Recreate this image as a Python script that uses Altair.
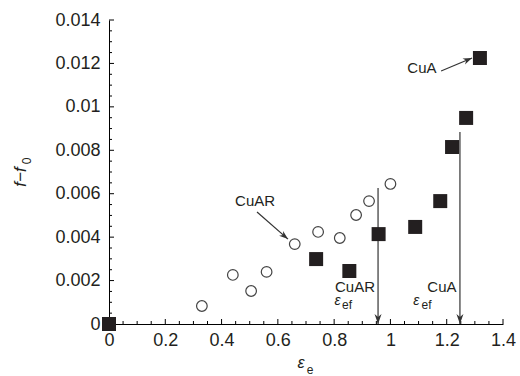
import altair as alt
import pandas as pd

# ---- data ----
cuar_x = [0.33, 0.44, 0.505, 0.56, 0.66, 0.743, 0.82, 0.878, 0.924, 1.0]
cuar_y = [0.00083, 0.00226, 0.00152, 0.0024, 0.00368, 0.00424, 0.00396, 0.00502, 0.00566, 0.00645]

cua_x = [0.0, 0.736, 0.854, 0.958, 1.088, 1.177, 1.219, 1.269, 1.318]
cua_y = [0.0, 0.00299, 0.00244, 0.00414, 0.00447, 0.00566, 0.00815, 0.00949, 0.01225]

x_major = [0, 0.2, 0.4, 0.6, 0.8, 1.0, 1.2, 1.4]
y_major = [0, 0.002, 0.004, 0.006, 0.008, 0.01, 0.012, 0.014]
x_minor = [round(i * 0.05, 3) for i in range(29)]
y_minor = [round(i * 0.0005, 5) for i in range(29)]

# strain markers (vertical arrows)
eps_x = [0.956, 1.247]
eps_top = [0.00626, 0.00884]
eps_names = ["CuAR", "CuA"]

# annotation arrows: start -> end
ann_x1 = [0.526, 1.18]
ann_y1 = [0.00516, 0.01165]
ann_x2 = [0.636, 1.29]
ann_y2 = [0.00391, 0.01225]
ann_angle = [310, 247]
ann_text = ["CuAR", "CuA"]
ann_tx = [0.519, 1.112]
ann_ty = [0.00566, 0.01179]

# epsilon_ef label positions
lab_x = [0.874, 1.183]
lab_y = [0.00172, 0.00172]
eps_sym_x = [0.812, 1.092]
eps_sym_y = [0.00105, 0.00105]
sub_x = [0.846, 1.128]
sub_y = [0.00086, 0.00086]

FONT = "Liberation Sans"
INK = "#231f20"
W, H = 394, 304

xscale = alt.Scale(domain=[0, 1.4], nice=False, zero=False)
yscale = alt.Scale(domain=[0, 0.014], nice=False, zero=False)
xaxis = alt.Axis(values=x_major, format="~g", ticks=False, grid=False, title="",
                 domainColor="black", domainWidth=1, labelFont=FONT, labelFontSize=18,
                 labelColor=INK, labelPadding=7, labelFlush=False, labelOverlap=False)
yaxis = alt.Axis(values=y_major, format="~g", ticks=False, grid=False, title="",
                 domainColor="black", domainWidth=1, labelFont=FONT, labelFontSize=18,
                 labelColor=INK, labelPadding=9, labelFlush=False, labelOverlap=False)


def X(f="x"):
    return alt.X(f, type="quantitative", scale=xscale, axis=xaxis)


def Y(f="y"):
    return alt.Y(f, type="quantitative", scale=yscale, axis=yaxis)


df_cuar = pd.DataFrame({"x": cuar_x, "y": cuar_y})
df_cua = pd.DataFrame({"x": cua_x, "y": cua_y})

major_len, minor_len = 5, 3
df_xt = pd.DataFrame({"x": x_minor, "major": [any(abs(v - m) < 1e-9 for m in x_major) for v in x_minor]})
df_yt = pd.DataFrame({"y": y_minor, "major": [any(abs(v - m) < 1e-12 for m in y_major) for v in y_minor]})

xt_major = alt.Chart(df_xt[df_xt.major]).mark_rule(color="black", strokeWidth=1).encode(
    x=X(), y=alt.value(H), y2=alt.value(H - major_len))
xt_minor = alt.Chart(df_xt[~df_xt.major]).mark_rule(color="black", strokeWidth=1).encode(
    x=X(), y=alt.value(H), y2=alt.value(H - minor_len))
yt_major = alt.Chart(df_yt[df_yt.major]).mark_rule(color="black", strokeWidth=1).encode(
    y=Y(), x=alt.value(0), x2=alt.value(major_len))
yt_minor = alt.Chart(df_yt[~df_yt.major]).mark_rule(color="black", strokeWidth=1).encode(
    y=Y(), x=alt.value(0), x2=alt.value(minor_len))

circles = alt.Chart(df_cuar).mark_point(shape="circle", filled=False, size=113,
                                         stroke="#444444", strokeWidth=1.2, opacity=1).encode(x=X(), y=Y())
squares = alt.Chart(df_cua).mark_point(shape="square", filled=True, size=196,
                                        color=INK, opacity=1).encode(x=X(), y=Y())

ARROW = "M0,0L-0.35,-1L0,-0.7L0.35,-1Z"

df_eps = pd.DataFrame({"x": eps_x, "y": eps_top, "y0": [0.0, 0.0], "ang": [0, 0], "name": eps_names})
eps_lines = alt.Chart(df_eps).mark_rule(color="#333333", strokeWidth=1.2).encode(
    x=X(), y=Y(), y2=alt.Y2("y0"))
eps_heads = alt.Chart(df_eps).mark_point(shape=ARROW, filled=True, size=400, color="#333333",
                                          opacity=1).encode(x=X(), y=Y("y0"),
                                                            angle=alt.Angle("ang", type="quantitative", scale=None))

df_ann = pd.DataFrame({"x": ann_x1, "y": ann_y1, "x2": ann_x2, "y2": ann_y2, "ang": ann_angle,
                       "t": ann_text, "tx": ann_tx, "ty": ann_ty})
ann_lines = alt.Chart(df_ann).mark_rule(color="#333333", strokeWidth=1.2).encode(
    x=X(), y=Y(), x2=alt.X2("x2"), y2=alt.Y2("y2"))
ann_heads = alt.Chart(df_ann).mark_point(shape=ARROW, filled=True, size=324, color="#333333",
                                          opacity=1).encode(x=X("x2"), y=Y("y2"),
                                                            angle=alt.Angle("ang", type="quantitative", scale=None))
ann_labels = alt.Chart(df_ann).mark_text(font=FONT, fontSize=15, color=INK, align="center",
                                          baseline="middle").encode(x=X("tx"), y=Y("ty"), text="t")

df_lab = pd.DataFrame({"x": lab_x, "y": lab_y, "t": eps_names,
                       "ex": eps_sym_x, "ey": eps_sym_y, "sx": sub_x, "sy": sub_y,
                       "e": ["ε", "ε"], "s": ["ef", "ef"]})
lab_names = alt.Chart(df_lab).mark_text(font=FONT, fontSize=15, color=INK, align="center",
                                         baseline="middle").encode(x=X(), y=Y(), text="t")
lab_eps = alt.Chart(df_lab).mark_text(font=FONT, fontSize=14, fontStyle="italic", color=INK,
                                       align="center", baseline="middle").encode(x=X("ex"), y=Y("ey"), text="e")
lab_sub = alt.Chart(df_lab).mark_text(font=FONT, fontSize=12, color=INK, align="center",
                                       baseline="middle").encode(x=X("sx"), y=Y("sy"), text="s")

# axis titles
df_titles = pd.DataFrame({"k": ["a"]})
ytitle_main = alt.Chart(df_titles).mark_text(font=FONT, fontSize=17, fontStyle="italic", color=INK,
                                             angle=270, align="center", baseline="middle").encode(
    x=alt.value(-88), y=alt.value(157), text=alt.value("f\u2212f"))
ytitle_sub = alt.Chart(df_titles).mark_text(font=FONT, fontSize=12, color=INK,
                                            angle=270, align="center", baseline="middle").encode(
    x=alt.value(-82), y=alt.value(141), text=alt.value("0"))
xtitle_main = alt.Chart(df_titles).mark_text(font=FONT, fontSize=16, fontStyle="italic", color=INK,
                                             align="center", baseline="middle").encode(
    x=alt.value(192), y=alt.value(343), text=alt.value("ε"))
xtitle_sub = alt.Chart(df_titles).mark_text(font=FONT, fontSize=12, color=INK,
                                            align="center", baseline="middle").encode(
    x=alt.value(201), y=alt.value(350), text=alt.value("e"))

chart = alt.layer(
    xt_major, xt_minor, yt_major, yt_minor,
    eps_lines, eps_heads, ann_lines, ann_heads,
    circles, squares, ann_labels, lab_names, lab_eps, lab_sub,
    ytitle_main, ytitle_sub, xtitle_main, xtitle_sub,
).properties(
    width=W, height=H,
    autosize=alt.AutoSizeParams(type="none"),
    padding={"left": 109, "top": 20, "right": 17, "bottom": 52},
    background="white",
).configure_view(stroke=None)

chart.save("out.html", embed_options={"renderer": "svg", "actions": False})
